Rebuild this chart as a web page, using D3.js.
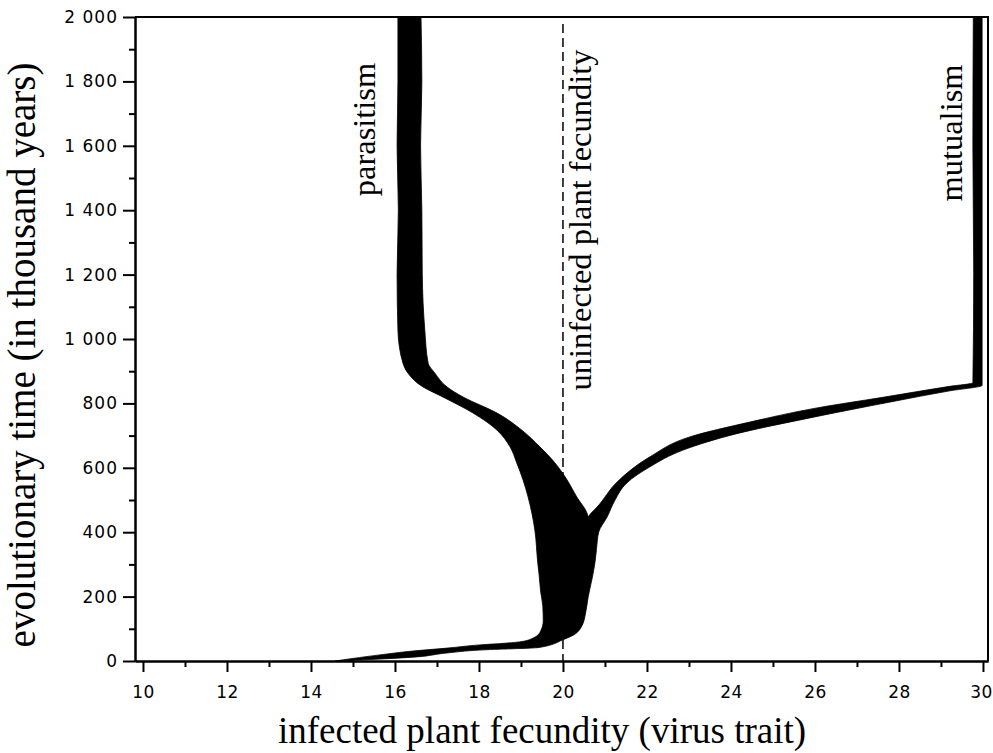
<!DOCTYPE html>
<html>
<head>
<meta charset="utf-8">
<script src="https://cdn.jsdelivr.net/npm/d3@7"></script>
<style>
  body { margin: 0; background: #fff; }
  .tick text { font-family: "DejaVu Sans"; font-size: 17px; letter-spacing: 1px; fill: #000; }
  .x-axis .tick text { letter-spacing: 0.5px; }
  .serif { font-family: "Liberation Serif"; fill: #000; }
</style>
</head>
<body>
<svg width="993" height="753"></svg>
<script>
// Axis ticks
var xTicks = [10, 12, 14, 16, 18, 20, 22, 24, 26, 28, 30],
  xMinor = [11, 13, 15, 17, 19, 21, 23, 25, 27, 29],
  yTicks = [0, 200, 400, 600, 800, 1000, 1200, 1400, 1600, 1800, 2000],
  yMinor = [100, 300, 500, 700, 900, 1100, 1300, 1500, 1700, 1900];

var uninfectedFecundity = 20;

// Outline of the trait distribution, as [virus trait, time] pairs.
// Left edge of the whole cloud, going up in time (trunk then parasitism branch)
var leftEdge = [
  [14.57, 0], [15.0, 8], [15.64, 19], [16.43, 31], [17.24, 40], [18.02, 50],
  [18.6, 55], [19.0, 60], [19.3, 72], [19.46, 91], [19.53, 124], [19.52, 170],
  [19.47, 214], [19.43, 270], [19.40, 304], [19.33, 407], [19.17, 509],
  [19.05, 562], [18.90, 615], [18.74, 665], [18.43, 717], [17.86, 770],
  [17.14, 820], [16.67, 851], [16.31, 894], [16.19, 925], [16.07, 1028],
  [16.05, 1200], [16.08, 1400], [16.05, 1600], [16.07, 1800], [16.07, 2000]
];

// Right edge of the parasitism branch, going down to the branching point
var parasiteRight = [
  [16.62, 2000], [16.64, 1800], [16.61, 1600], [16.64, 1400], [16.65, 1200],
  [16.71, 1028], [16.79, 925], [16.95, 894], [17.24, 851], [17.62, 820],
  [18.43, 770], [19.02, 717], [19.45, 665], [19.81, 615], [20.10, 562],
  [20.33, 509], [20.57, 460], [20.6, 447]
];

// Left edge of the mutualism branch, going up from the branching point
var mutualLeft = [
  [20.66, 458], [20.81, 478], [21.29, 556], [22.07, 634], [23.02, 696], [24.45, 742],
  [26.05, 786], [27.62, 819], [29.21, 853], [29.76, 864], [29.78, 1200],
  [29.76, 1600], [29.77, 2000]
];

// Right edge of the whole cloud, going back down in time
var rightEdge = [
  [29.98, 2000], [29.98, 856], [29.21, 839], [27.86, 806], [25.88, 755],
  [24.14, 706], [22.86, 655], [22.07, 603], [21.52, 553], [21.24, 500],
  [21.05, 447], [20.85, 400], [20.8, 350], [20.76, 304], [20.7, 260],
  [20.6, 199], [20.54, 150], [20.45, 109], [20.24, 80], [20.0, 66], [19.43, 42],
  [18.02, 34], [17.24, 25], [16.43, 12], [15.64, 6], [14.65, 0]
];

var svg = d3.select("svg"),
  plotLeft = 135, plotRight = 988, plotTop = 17, plotBottom = 661;

var x = d3.scaleLinear().domain([9.81, 30.12]).range([plotLeft, plotRight]),
  y = d3.scaleLinear().domain([0, 2000]).range([plotBottom, plotTop]);

var fmt = d3.formatLocale({decimal: ".", thousands: " ", grouping: [3], currency: ["", ""]}).format(",d");

// Dashed reference line (below the cloud)
svg.append("line")
  .attr("x1", x(uninfectedFecundity)).attr("x2", x(uninfectedFecundity))
  .attr("y1", y(1978)).attr("y2", y(0))
  .attr("stroke", "#000")
  .attr("stroke-width", 1.5)
  .attr("stroke-dasharray", "9,5");

// Trait cloud: each edge is monotone in time, so smooth them along y
var edge = d3.line()
  .x(function(d) { return x(d[0]); })
  .y(function(d) { return y(d[1]); })
  .curve(d3.curveMonotoneY);

var cloud = [leftEdge, parasiteRight, mutualLeft, rightEdge].map(function(e, i) {
  var p = edge(e);
  return i ? "L" + p.slice(1) : p;
}).join("") + "Z";

svg.append("path")
  .attr("d", cloud)
  .attr("fill", "#000")
  .attr("stroke", "#000")
  .attr("stroke-width", 0.8);

// Axes
var gx = svg.append("g").attr("class", "x-axis").attr("transform", "translate(0," + plotBottom + ")");
gx.call(d3.axisBottom(x).tickValues(xTicks).tickSize(11).tickPadding(14).tickSizeOuter(0));
gx.append("g").call(d3.axisBottom(x).tickValues(xMinor).tickSize(6).tickFormat("").tickSizeOuter(0));
// last label sits right at the image edge
gx.selectAll(".tick text").filter(function(d) { return d === 30; }).attr("dx", -2);

var gy = svg.append("g").attr("transform", "translate(" + plotLeft + ",0)");
gy.call(d3.axisLeft(y).tickValues(yTicks).tickSize(12).tickPadding(5).tickFormat(fmt).tickSizeOuter(0));
gy.append("g").call(d3.axisLeft(y).tickValues(yMinor).tickSize(6).tickFormat("").tickSizeOuter(0));

svg.selectAll(".domain").attr("stroke", "#000").attr("stroke-width", 2);
svg.selectAll(".tick line").attr("stroke", "#000").attr("stroke-width", 2);

// Frame top and right
svg.append("path")
  .attr("d", "M" + plotLeft + "," + plotTop + "H" + plotRight + "V" + plotBottom)
  .attr("fill", "none")
  .attr("stroke", "#000")
  .attr("stroke-width", 2);

// Annotations
function vlabel(text, tx, ty, size) {
  svg.append("text")
    .attr("class", "serif")
    .attr("transform", "translate(" + tx + "," + ty + ") rotate(-90)")
    .attr("text-anchor", "middle")
    .style("font-size", size + "px")
    .text(text);
}
vlabel("parasitism", 375, 129.5, 32.5);
vlabel("uninfected plant fecundity", 591, 220, 32.5);
vlabel("mutualism", 962, 133, 32.5);

// Axis titles
vlabel("evolutionary time (in thousand years)", 35, 355, 39);
svg.append("text")
  .attr("class", "serif")
  .attr("x", 542).attr("y", 743)
  .attr("text-anchor", "middle")
  .style("font-size", "37px")
  .text("infected plant fecundity (virus trait)");
</script>
</body>
</html>
